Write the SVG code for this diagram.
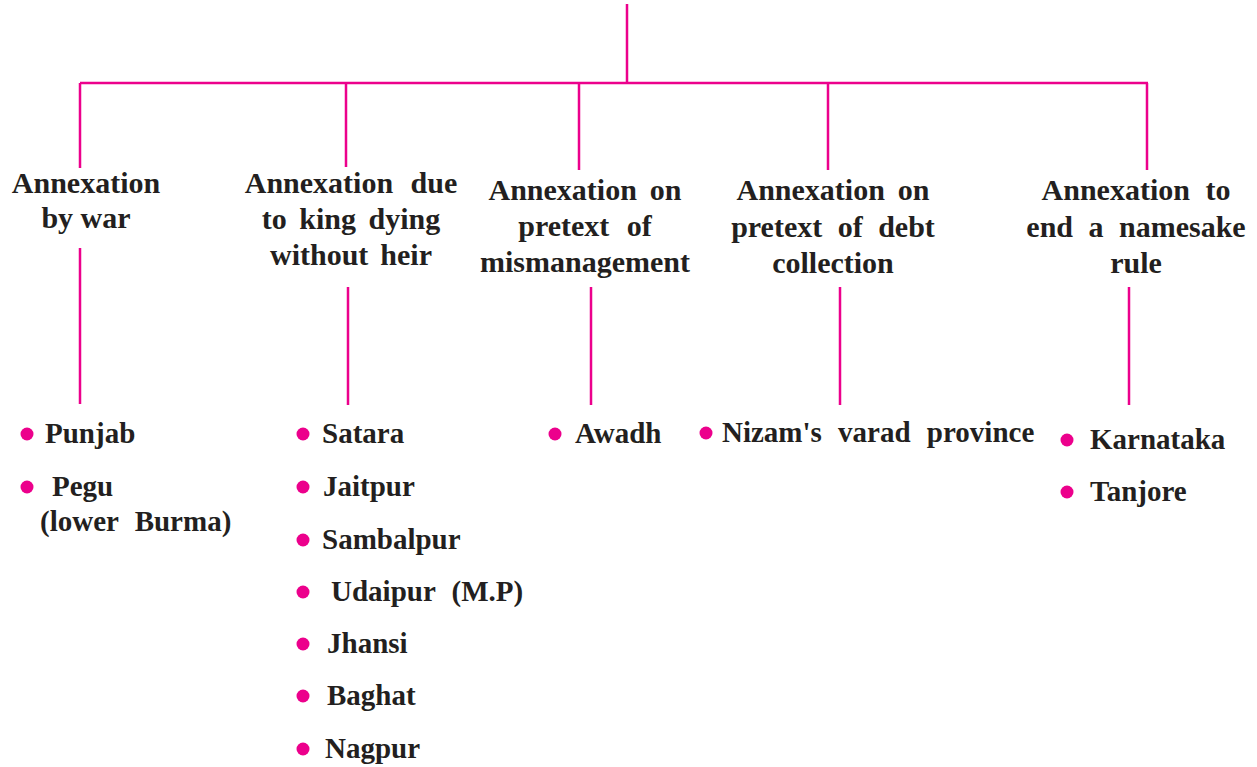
<svg xmlns="http://www.w3.org/2000/svg" width="1257" height="767" viewBox="0 0 1257 767">
<rect width="1257" height="767" fill="#fff"/>
<g id="connectors" stroke="#EC008C" stroke-width="2.5" fill="none">
<path d="M627 4V83M80 83H1148M80 83V168M346 83V167M579 83V170M828 83V170M1147 83V170"/>
<path d="M80 248V404M348 287V405M591 287V405M840 287V405M1129 287V405"/>
</g>
<g font-weight="bold" font-size="30" fill="#231F20" text-anchor="middle" word-spacing="8">
<g id="n1">
<text font-family="Liberation Serif" font-weight="bold" x="86" y="193">Annexation</text>
<text font-family="Liberation Serif" font-weight="bold" x="86" y="228" word-spacing="0">by war</text>
</g>
<g id="n2">
<text font-family="Liberation Serif" font-weight="bold" x="351" y="193" word-spacing="10">Annexation due</text>
<text font-family="Liberation Serif" font-weight="bold" x="351" y="229" word-spacing="5">to king dying</text>
<text font-family="Liberation Serif" font-weight="bold" x="351" y="265" word-spacing="4.5">without heir</text>
</g>
<g id="n3">
<text font-family="Liberation Serif" font-weight="bold" x="585" y="200" word-spacing="5.5">Annexation on</text>
<text font-family="Liberation Serif" font-weight="bold" x="585" y="236" word-spacing="10">pretext of</text>
<text font-family="Liberation Serif" font-weight="bold" x="585" y="272">mismanagement</text>
</g>
<g id="n4">
<text font-family="Liberation Serif" font-weight="bold" x="833" y="200" word-spacing="5.5">Annexation on</text>
<text font-family="Liberation Serif" font-weight="bold" x="833" y="237">pretext of debt</text>
<text font-family="Liberation Serif" font-weight="bold" x="833" y="273">collection</text>
</g>
<g id="n5">
<text font-family="Liberation Serif" font-weight="bold" x="1136" y="200">Annexation to</text>
<text font-family="Liberation Serif" font-weight="bold" x="1136" y="237">end a namesake</text>
<text font-family="Liberation Serif" font-weight="bold" x="1136" y="273">rule</text>
</g>
</g>
<g font-weight="bold" font-size="29" fill="#231F20" word-spacing="9">
<g id="l1">
<circle fill="#EC008C" cx="27" cy="434" r="6.5"/><text font-family="Liberation Serif" font-weight="bold" x="45" y="443">Punjab</text>
<circle fill="#EC008C" cx="27" cy="487" r="6.5"/><text font-family="Liberation Serif" font-weight="bold" x="52" y="496">Pegu</text>
<text font-family="Liberation Serif" font-weight="bold" x="40" y="531">(lower Burma)</text>
</g>
<g id="l2">
<circle fill="#EC008C" cx="303" cy="434" r="6.5"/><text font-family="Liberation Serif" font-weight="bold" x="322" y="443">Satara</text>
<circle fill="#EC008C" cx="303" cy="487" r="6.5"/><text font-family="Liberation Serif" font-weight="bold" x="323" y="496">Jaitpur</text>
<circle fill="#EC008C" cx="303" cy="540" r="6.5"/><text font-family="Liberation Serif" font-weight="bold" x="322" y="549">Sambalpur</text>
<circle fill="#EC008C" cx="303" cy="592" r="6.5"/><text font-family="Liberation Serif" font-weight="bold" x="331" y="601">Udaipur (M.P)</text>
<circle fill="#EC008C" cx="303" cy="644" r="6.5"/><text font-family="Liberation Serif" font-weight="bold" x="327" y="653">Jhansi</text>
<circle fill="#EC008C" cx="303" cy="696" r="6.5"/><text font-family="Liberation Serif" font-weight="bold" x="327" y="705">Baghat</text>
<circle fill="#EC008C" cx="303" cy="749" r="6.5"/><text font-family="Liberation Serif" font-weight="bold" x="325" y="758">Nagpur</text>
</g>
<g id="l3">
<circle fill="#EC008C" cx="555" cy="434" r="6.5"/><text font-family="Liberation Serif" font-weight="bold" x="575" y="443">Awadh</text>
</g>
<g id="l4">
<circle fill="#EC008C" cx="706" cy="433" r="6.5"/><text font-family="Liberation Serif" font-weight="bold" x="722" y="442">Nizam's varad province</text>
</g>
<g id="l5">
<circle fill="#EC008C" cx="1067" cy="440" r="6.5"/><text font-family="Liberation Serif" font-weight="bold" x="1090" y="449">Karnataka</text>
<circle fill="#EC008C" cx="1067" cy="492" r="6.5"/><text font-family="Liberation Serif" font-weight="bold" x="1090" y="501">Tanjore</text>
</g>
</g>
</svg>
